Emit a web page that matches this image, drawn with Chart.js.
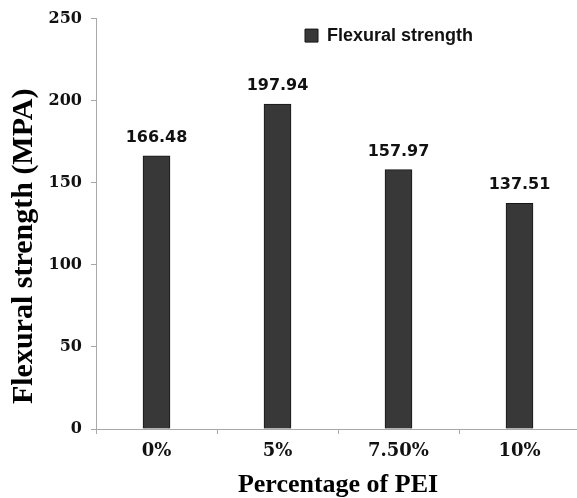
<!DOCTYPE html>
<html>
<head>
<meta charset="utf-8">
<script src="https://cdn.jsdelivr.net/npm/chart.js@4"></script>
<style>
  html, body { margin: 0; padding: 0; background: #fff; overflow: hidden; }
  #wrap { width: 580px; height: 498px; }
</style>
</head>
<body>
<div id="wrap"><canvas id="chart"></canvas></div>
<script>
const categories = ['0%', '5%', '7.50%', '10%'];
const strength = [166.48, 197.94, 157.97, 137.51];
const yTicks = [0, 50, 100, 150, 200, 250];

const axisGrey = '#a8a8a8';

// value printed above each bar
const valueLabels = {
  id: 'valueLabels',
  afterDatasetsDraw(chart) {
    const { ctx } = chart;
    const meta = chart.getDatasetMeta(0);
    ctx.save();
    ctx.font = 'bold 16px "DejaVu Sans"';
    ctx.fillStyle = '#111';
    ctx.textAlign = 'center';
    ctx.textBaseline = 'alphabetic';
    meta.data.forEach((bar, i) => {
      ctx.fillText(strength[i].toFixed(2), bar.x, bar.y - 14);
    });
    ctx.restore();
  }
};

// keep the legend inside the plot, right of centre
const legendInPlot = {
  id: 'legendInPlot',
  afterLayout(chart) {
    const lg = chart.legend;
    if (!lg) return;
    lg.left = chart.chartArea.left + 201;
    lg.top = chart.chartArea.top;
  }
};

new Chart(document.getElementById('chart'), {
  type: 'bar',
  data: {
    labels: categories,
    datasets: [{
      label: 'Flexural strength',
      data: strength,
      backgroundColor: '#383838',
      borderColor: '#151515',
      borderWidth: 1,
      barThickness: 27
    }]
  },
  options: {
    responsive: true,
    maintainAspectRatio: false,
    animation: false,
    layout: { padding: { top: 16, left: 0, right: 0, bottom: 0 } },
    plugins: {
      tooltip: { enabled: false },
      legend: {
        position: 'chartArea',
        align: 'start',
        labels: {
          boxWidth: 13,
          boxHeight: 13,
          padding: 8,
          color: '#111',
          font: { family: '"Liberation Sans"', size: 18, weight: 'bold' }
        }
      }
    },
    scales: {
      x: {
        afterFit: s => { s.height = 69; },
        border: { color: axisGrey },
        grid: { offset: true, drawOnChartArea: false, tickLength: 5, color: axisGrey },
        ticks: {
          padding: 7,
          color: '#111',
          font: { family: '"DejaVu Serif"', size: 18, weight: 'bold' }
        },
        title: {
          display: true,
          text: 'Percentage of PEI',
          color: '#000',
          padding: { top: 0, bottom: 0 },
          font: { family: '"Liberation Serif"', size: 26, weight: 'bold', lineHeight: 1 }
        }
      },
      y: {
        min: yTicks[0],
        max: yTicks[yTicks.length - 1],
        afterFit: s => { s.width = 96; },
        afterBuildTicks: s => { s.ticks = yTicks.map(v => ({ value: v })); },
        border: { color: axisGrey },
        grid: { drawOnChartArea: false, tickLength: 5, color: axisGrey },
        ticks: {
          padding: 9,
          color: '#111',
          font: { family: '"DejaVu Serif"', size: 16, weight: 'bold' }
        },
        title: {
          display: true,
          // trailing spaces push the centred title a little toward the bottom
          text: 'Flexural strength (MPA)      ',
          color: '#000',
          padding: { top: 9, bottom: 0 },
          font: { family: '"Liberation Serif"', size: 30, weight: 'bold', lineHeight: 1 }
        }
      }
    }
  },
  plugins: [valueLabels, legendInPlot]
});
</script>
</body>
</html>
